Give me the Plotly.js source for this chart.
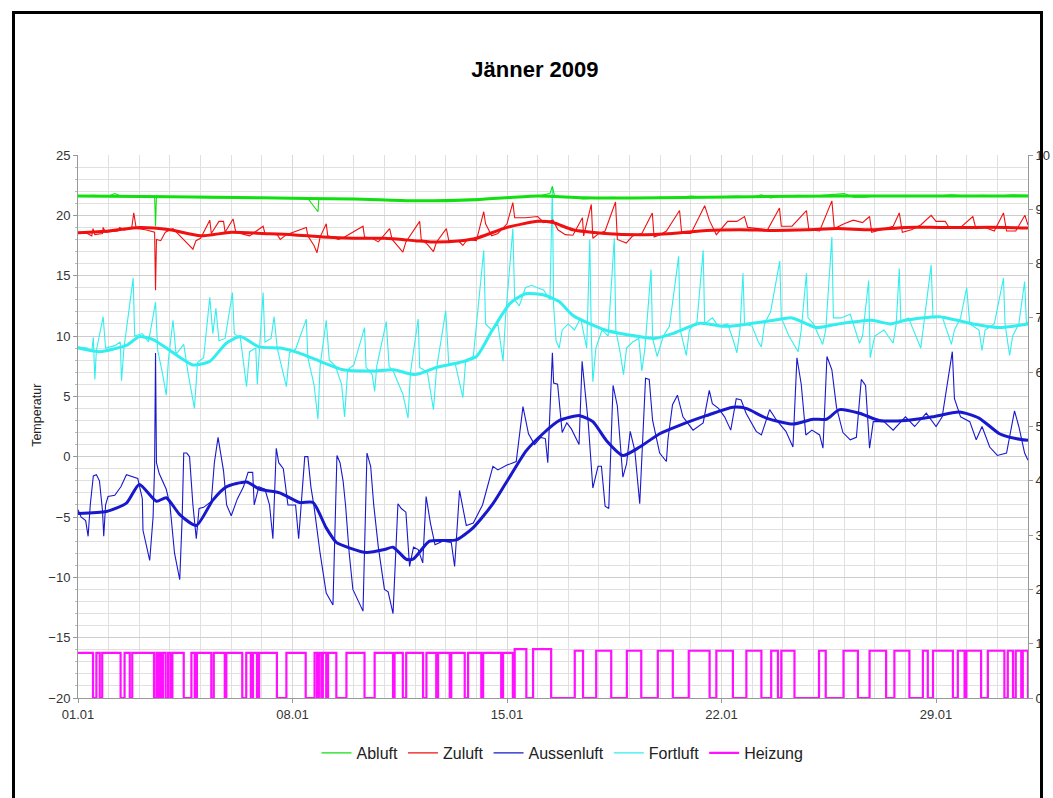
<!DOCTYPE html>
<html>
<head>
<meta charset="utf-8">
<script src="https://cdn.plot.ly/plotly-3.0.1.min.js"></script>
<style>
html,body{margin:0;padding:0;background:#fff;}
#chart{width:1053px;height:798px;}
#frame{position:absolute;left:12px;top:11px;width:1025px;height:820px;border:3px solid #000;pointer-events:none;}
</style>
</head>
<body>
<div id="chart"></div>
<div id="frame"></div>
<script>
// ---- tick labels ----
const tickDays = [0, 7, 14, 21, 28];
const tickLabels = ['01.01', '08.01', '15.01', '22.01', '29.01'];

// ---- Abluft (green) ----
const abluftDays = [0,0.5,1.0,1.2,1.4,2.0,2.5,2.53,2.56,3.5,4.5,5.5,6.5,7.5,7.83,7.86,8.5,9.5,10.0,10.5,11.0,11.5,12.0,12.5,13.0,13.5,14.0,14.5,15.0,15.4,15.48,15.55,16.0,16.5,17.0,17.5,18.0,18.5,19.0,19.5,20.0,20.5,21.0,21.5,22.0,22.3,22.6,23.0,23.5,24.0,24.5,25.0,25.3,25.7,26.0,26.5,27.0,27.5,28.0,28.5,29.0,29.5,30.0,30.5,31.0];
const abluftVals = [21.6,21.65,21.6,21.8,21.6,21.6,21.6,19.1,21.6,21.5,21.45,21.5,21.4,21.4,20.3,21.4,21.4,21.35,21.3,21.2,21.2,21.2,21.3,21.3,21.35,21.4,21.5,21.55,21.6,21.8,22.4,21.6,21.5,21.35,21.45,21.5,21.4,21.45,21.5,21.45,21.6,21.5,21.55,21.6,21.5,21.7,21.45,21.6,21.65,21.6,21.7,21.8,21.5,21.5,21.6,21.6,21.6,21.65,21.6,21.7,21.6,21.65,21.6,21.7,21.65];
const abluftAvgDays = [0,3,6,9,11,13,15,16.5,19,22,25,28,31];
const abluftAvgVals = [21.6,21.55,21.45,21.35,21.2,21.3,21.6,21.45,21.45,21.55,21.6,21.6,21.6];

// ---- Zuluft (red) ----
const zuluftDays = [0,0.3,0.45,0.49,0.55,0.8,0.82,0.9,1.3,1.36,1.5,1.75,1.82,1.9,2.2,2.5,2.53,2.56,2.7,2.85,3.1,3.3,3.6,3.75,3.85,4.0,4.3,4.35,4.6,4.75,4.8,5.06,5.15,5.3,5.6,6.04,6.1,6.5,6.6,6.8,7.02,7.45,7.5,7.7,7.8,7.9,8.1,8.15,8.5,8.7,9.3,9.35,9.6,9.8,10.17,10.25,10.45,10.6,10.7,11.15,11.2,11.4,11.6,11.7,12.02,12.1,12.4,12.56,12.7,13.0,13.24,13.3,13.5,13.7,14.0,14.19,14.25,14.6,15.0,15.2,15.5,15.66,15.9,16.15,16.46,16.5,16.75,16.8,17.0,17.2,17.54,17.6,17.89,18.1,18.4,18.74,18.8,19.0,19.2,19.63,19.7,20.0,20.45,20.6,20.83,21.2,21.5,21.75,21.85,22.3,22.5,22.89,22.95,23.3,23.77,23.85,24.2,24.6,24.68,25.0,25.3,25.6,25.83,25.9,26.3,26.6,26.8,26.9,27.2,27.5,27.84,28.0,28.3,28.4,28.8,29.2,29.3,29.6,29.9,30.2,30.3,30.6,30.9,31.0];
const zuluftVals = [18.55,18.5,18.3,18.9,18.4,18.5,19.0,18.6,18.7,19.0,18.8,18.9,20.2,18.9,18.8,18.6,13.8,18.0,17.9,18.6,18.9,18.4,17.6,17.2,17.9,18.1,19.6,18.5,19.5,19.5,18.6,19.7,18.6,18.5,18.3,19.1,18.5,18.4,18.0,18.4,18.6,19.0,18.3,17.5,16.9,18.2,19.3,18.3,18.0,18.2,19.1,18.2,18.1,17.8,18.9,18.0,17.4,16.95,17.8,19.5,18.0,17.6,17.0,17.8,18.9,17.9,17.9,17.5,18.0,17.9,20.3,19.3,18.3,18.5,19.3,21.05,19.8,19.8,19.9,19.4,19.6,18.8,18.4,18.35,19.8,18.3,20.9,18.1,18.5,18.7,21.1,18.0,17.7,18.3,18.5,20.2,18.2,18.4,18.7,20.4,18.5,18.5,20.8,19.6,18.4,19.5,19.5,19.9,19.0,18.9,18.8,20.6,19.1,19.1,20.4,18.8,18.7,21.2,18.9,19.3,19.6,19.4,19.9,18.6,18.9,19.1,20.2,18.6,18.8,19.2,20.0,19.5,19.5,19.1,19.0,19.9,18.9,19.0,18.7,20.2,18.7,18.7,20.0,19.2];
const zuluftAvgDays = [0,1,2,3,4,5,6,7,8,9,10,11,11.5,12.5,13,14,15,15.5,16.15,17.2,18.3,19.4,20.5,21.6,22.7,23.8,24.8,25.9,27,28.1,29.2,30.3,31];
const zuluftAvgVals = [18.55,18.7,19.0,18.8,18.3,18.6,18.5,18.4,18.2,18.1,18.1,17.9,17.8,17.9,18.1,19.0,19.5,19.4,18.8,18.5,18.4,18.5,18.75,18.8,18.75,18.8,18.9,18.8,19.0,19.0,19.0,19.0,18.95];

// ---- Aussenluft (blue) ----
const aussenDays = [0,0.1,0.25,0.33,0.4,0.5,0.6,0.7,0.8,0.84,0.9,0.98,1.2,1.4,1.58,1.8,1.95,2.1,2.12,2.34,2.45,2.5,2.53,2.56,2.65,2.88,3.0,3.15,3.32,3.4,3.45,3.55,3.64,3.75,3.86,3.95,4.1,4.35,4.45,4.57,4.65,4.75,4.85,5.0,5.2,5.4,5.55,5.7,5.75,5.9,6.1,6.25,6.36,6.47,6.55,6.7,6.85,7.1,7.2,7.4,7.5,7.6,7.7,7.9,8.1,8.32,8.45,8.55,8.65,8.73,8.85,8.97,9.3,9.43,9.55,9.65,9.8,10.0,10.12,10.28,10.44,10.55,10.7,10.82,10.95,11.1,11.25,11.36,11.5,11.65,11.9,12.18,12.29,12.45,12.67,12.9,13.2,13.54,13.7,14.0,14.3,14.52,14.7,14.9,15.1,15.25,15.33,15.44,15.48,15.52,15.65,15.8,15.95,16.1,16.35,16.45,16.55,16.65,16.8,16.97,17.08,17.2,17.32,17.46,17.6,17.78,17.9,18.02,18.17,18.33,18.52,18.64,18.75,18.98,19.2,19.25,19.4,19.56,19.74,20.07,20.4,20.6,20.7,20.9,21.1,21.3,21.48,21.64,21.8,22.13,22.3,22.57,22.8,23.1,23.33,23.46,23.6,23.75,23.95,24.2,24.31,24.44,24.6,24.75,24.96,25.2,25.4,25.56,25.7,25.83,25.95,26.3,26.6,27.0,27.3,27.68,28.0,28.2,28.53,28.6,28.8,29.1,29.31,29.5,29.75,30.0,30.3,30.56,30.7,30.89,31.0];
const aussenVals = [-4.4,-5.0,-5.3,-6.6,-4.0,-1.6,-1.5,-2.0,-4.5,-6.6,-4.0,-3.3,-3.2,-2.5,-1.5,-1.7,-1.8,-3.5,-6.1,-8.6,-5.0,-0.8,8.6,-0.5,-1.4,-2.7,-4.0,-8.0,-10.2,-5.0,0.3,0.3,0.0,-4.0,-6.8,-4.3,-4.2,-3.7,-0.5,1.6,0.5,-1.2,-4.0,-4.9,-3.5,-2.5,-1.3,-1.3,-4.0,-2.5,-2.7,-4.0,-6.8,0.7,-0.5,-1.0,-4.0,-4.0,-6.8,0.0,0.0,-2.5,-4.1,-8.0,-11.3,-12.3,0.1,-0.5,-2.0,-4.0,-8.0,-11.0,-12.8,0.3,-0.8,-4.0,-7.5,-11.0,-11.2,-13.0,-3.9,-4.3,-4.6,-9.1,-7.5,-7.7,-8.8,-3.3,-5.5,-7.3,-7.0,-7.1,-9.1,-2.8,-5.7,-5.5,-4.0,-0.8,-1.1,-0.7,-0.4,4.15,1.9,1.0,1.6,1.5,-0.5,6.6,8.6,6.1,6.0,2.0,2.8,2.3,1.0,7.9,5.4,2.8,-2.6,-0.8,-0.8,-4.1,-4.3,5.9,4.2,-1.7,-0.6,2.1,0.5,-3.9,6.5,6.4,3.0,0.3,-0.4,1.4,4.3,5.1,3.3,2.2,2.8,5.5,4.4,4.0,3.3,2.2,4.8,4.7,3.6,2.1,1.8,3.9,3.0,2.1,0.8,8.2,6.0,1.8,2.2,1.8,0.7,8.3,7.2,4.1,2.0,1.4,1.6,6.4,5.9,0.7,2.9,2.9,2.2,3.3,2.5,3.6,2.5,3.3,8.7,4.8,3.3,2.9,1.4,2.5,0.8,0.1,0.3,3.8,2.5,0.3,-0.3];
const aussenAvgDays = [0,0.93,1.58,2.0,2.56,2.88,3.32,3.86,4.4,4.84,5.5,5.93,6.58,7.23,7.67,8.1,8.43,8.9,9.41,10.0,10.28,10.71,10.93,11.15,11.47,12.34,12.89,13.54,14.08,14.63,15.17,15.71,16.37,16.8,17.24,17.78,18.33,18.98,19.63,20.5,21.37,21.8,22.46,23.33,23.98,24.42,24.85,25.5,26.15,27.02,27.89,28.76,29.4,30.07,30.6,31.0];
const aussenAvgVals = [-4.7,-4.55,-3.85,-2.3,-3.7,-3.4,-4.8,-5.7,-3.6,-2.5,-2.1,-2.7,-3.0,-3.8,-3.8,-5.9,-7.1,-7.6,-7.95,-7.7,-7.5,-8.5,-8.5,-7.9,-7.0,-6.9,-5.9,-3.9,-1.7,0.5,1.9,3.0,3.4,2.9,1.35,0.1,0.8,1.9,2.6,3.4,4.1,4.0,3.2,2.7,3.1,3.1,3.9,3.6,3.0,3.0,3.3,3.7,3.2,1.9,1.5,1.35];

// ---- Fortluft (cyan) ----
const fortDays = [0,0.3,0.45,0.5,0.55,0.6,0.82,0.9,1.2,1.38,1.42,1.5,1.8,1.85,2.1,2.3,2.53,2.6,2.75,2.88,2.95,3.1,3.2,3.45,3.6,3.8,3.9,4.1,4.3,4.4,4.5,4.6,4.8,5.04,5.1,5.3,5.5,5.6,5.8,5.85,6.04,6.1,6.3,6.4,6.5,6.8,6.9,7.1,7.45,7.5,7.7,7.83,7.9,8.1,8.2,8.4,8.6,8.7,8.8,9.0,9.35,9.4,9.6,9.68,9.75,10.06,10.15,10.3,10.6,10.77,10.85,11.1,11.15,11.4,11.6,11.7,12.0,12.1,12.3,12.56,12.65,12.9,13.24,13.3,13.5,13.7,13.87,13.95,14.19,14.25,14.4,14.6,14.8,15.0,15.2,15.4,15.48,15.52,15.6,15.7,15.8,16.0,16.2,16.4,16.6,16.7,16.75,16.8,16.9,17.1,17.3,17.5,17.55,17.7,17.8,17.9,18.1,18.3,18.4,18.5,18.7,18.75,18.9,19.1,19.3,19.6,19.65,19.85,19.95,20.2,20.4,20.45,20.7,20.9,21.2,21.4,21.5,21.6,21.7,21.75,22.0,22.2,22.3,22.4,22.6,22.9,22.95,23.2,23.5,23.6,23.77,23.82,24.0,24.3,24.4,24.6,24.65,24.9,25.2,25.5,25.6,25.8,25.85,26.0,26.3,26.6,26.7,26.8,26.85,27.1,27.4,27.5,27.6,27.84,27.9,28.2,28.5,28.6,28.8,29.0,29.1,29.4,29.5,29.6,29.9,30.2,30.25,30.4,30.5,30.7,30.89,30.95,31.0];
const fortVals = [9.1,9.0,8.7,9.9,6.4,8.8,11.6,9.0,9.2,9.5,6.3,9.0,14.8,10.0,10.2,9.5,12.8,8.8,7.0,5.1,8.0,11.3,8.5,9.3,6.8,4.0,7.8,8.2,13.2,10.2,12.3,9.6,9.8,13.6,10.2,9.8,5.8,8.7,9.0,6.0,13.6,9.5,9.8,11.6,9.0,5.8,8.6,8.9,11.4,8.2,6.0,3.1,7.5,11.3,8.0,7.5,6.0,3.3,7.2,7.6,10.7,7.4,6.8,5.4,7.5,11.2,7.5,7.0,5.2,3.2,7.0,11.4,7.4,7.0,3.9,7.3,12.1,7.6,7.8,4.9,8.0,8.3,17.1,11.0,10.5,11.0,7.9,11.5,18.9,13.0,12.5,14.0,14.2,14.0,13.8,13.0,22.4,12.5,9.6,9.0,10.5,11.0,10.5,11.5,9.0,18.0,10.0,6.2,9.0,10.5,10.0,18.1,10.5,8.5,6.8,9.0,9.5,9.8,7.1,9.0,15.5,9.8,8.3,10.0,10.8,16.6,10.5,8.4,10.5,11.2,17.1,11.0,11.5,10.8,11.0,9.5,8.6,10.5,15.2,11.0,10.8,9.5,9.1,11.0,12.0,16.2,11.5,10.0,8.7,10.5,15.2,11.5,11.0,9.3,10.5,18.2,11.5,11.5,11.8,9.4,10.0,14.6,8.2,10.0,10.5,9.4,11.0,15.6,11.2,11.5,9.5,9.0,11.0,15.9,11.5,11.6,9.3,10.5,11.5,14.0,11.0,10.5,8.8,10.5,11.0,14.8,11.0,8.4,10.0,11.0,14.5,11.0,11.2];
const fortAvgDays = [0,0.7,1.6,2.0,2.45,3.0,3.75,4.3,4.84,5.3,5.9,6.6,7.2,7.9,8.65,9.6,10.3,11.0,11.7,12.45,13.0,13.5,14.1,14.6,15.2,15.7,16.15,17.2,18.3,18.8,19.4,20.3,21.05,21.6,22.7,23.3,24.1,24.8,25.9,26.5,27.0,28.1,29.2,30.07,31.0];
const fortAvgVals = [9.0,8.7,9.25,9.95,9.7,8.8,7.6,7.9,9.4,9.95,9.1,9.0,8.6,7.9,7.2,7.1,7.2,6.8,7.4,7.8,8.3,10.4,12.7,13.5,13.4,12.85,11.7,10.5,9.95,9.8,10.2,11.05,10.8,10.9,11.3,11.5,10.7,11.0,11.3,11.0,11.3,11.6,11.0,10.7,11.0];

// ---- Heizung (magenta, right axis): on-periods [start, end] in days and level ----
const heizOnStart = [0,0.60,0.79,1.52,1.77,2.56,2.66,2.77,2.94,3.08,3.70,3.88,4.43,4.84,5.49,5.71,5.91,6.80,7.72,7.86,7.99,8.16,8.76,9.68,10.33,10.71,11.37,11.75,12.18,12.73,13.22,13.87,14.25,14.85,16.21,16.91,17.91,18.92,19.93,20.83,21.81,22.62,22.95,24.18,24.98,25.83,26.64,27.57,27.90,28.71,28.99,29.69,30.34,30.60,30.83];
const heizOnEnd   = [0.49,0.71,1.39,1.69,2.48,2.61,2.72,2.86,3.02,3.45,3.81,4.35,4.79,5.36,5.64,5.84,6.49,7.43,7.80,7.94,8.10,8.43,9.35,10.28,10.60,11.26,11.69,12.13,12.62,13.16,13.81,14.19,14.63,15.44,16.48,17.40,18.38,19.41,20.61,21.37,22.30,22.84,23.38,24.40,25.45,26.37,27.13,27.73,28.55,28.93,29.47,30.23,30.51,30.78,31.0];
const heizLevel   = [0.83,0.83,0.83,0.83,0.83,0.83,0.83,0.83,0.83,0.83,0.83,0.83,0.83,0.83,0.83,0.83,0.83,0.83,0.83,0.83,0.83,0.83,0.83,0.83,0.83,0.83,0.83,0.83,0.83,0.83,0.83,0.83,0.9,0.9,0.87,0.87,0.87,0.87,0.87,0.87,0.87,0.87,0.87,0.87,0.87,0.87,0.87,0.87,0.87,0.87,0.87,0.87,0.87,0.87,0.87];

// build step path for Heizung from the on-periods
const heizX = [], heizY = [];
for (let i = 0; i < heizOnStart.length; i++) {
  if (heizOnStart[i] > 0) { heizX.push(heizOnStart[i]); heizY.push(0); }
  heizX.push(heizOnStart[i]); heizY.push(heizLevel[i]);
  heizX.push(heizOnEnd[i]); heizY.push(heizLevel[i]);
  heizX.push(heizOnEnd[i]); heizY.push(0);
}

const GREEN = '#10e010', RED = '#f01010', BLUE = '#1818cc', CYAN = '#33eeee', MAG = '#ff10ff';
function thin(x, y, name, color, w) {
  return {x: x, y: y, name: name, type: 'scatter', mode: 'lines', line: {color: color, width: w || 1.1}};
}
function thick(x, y, color) {
  return {x: x, y: y, type: 'scatter', mode: 'lines', showlegend: false, hoverinfo: 'skip',
          line: {color: color, width: 3, shape: 'spline', smoothing: 0.6}};
}

const data = [
  thin(heizX, heizY, 'Heizung', MAG, 2.2),
  thin(aussenDays, aussenVals, 'Aussenluft', BLUE),
  thick(aussenAvgDays, aussenAvgVals, BLUE),
  thin(fortDays, fortVals, 'Fortluft', CYAN),
  thick(fortAvgDays, fortAvgVals, CYAN),
  thin(zuluftDays, zuluftVals, 'Zuluft', RED),
  thick(zuluftAvgDays, zuluftAvgVals, RED),
  thin(abluftDays, abluftVals, 'Abluft', GREEN),
  thick(abluftAvgDays, abluftAvgVals, GREEN)
];
data[0].yaxis = 'y2';
data[0].legendrank = 5;
data[1].legendrank = 3;
data[3].legendrank = 4;
data[5].legendrank = 2;
data[7].legendrank = 1;

const font = {family: 'Liberation Sans, Arial, sans-serif', color: '#222', size: 13};
const layout = {
  width: 1053, height: 798,
  paper_bgcolor: '#fff', plot_bgcolor: '#fff',
  margin: {l: 78, r: 25, t: 155, b: 100},
  font: font,
  showlegend: true,
  title: {text: '<b>Jänner 2009</b>', font: {family: 'Liberation Sans, Arial, sans-serif', size: 22, color: '#000'},
          x: 0.508, xref: 'container', xanchor: 'center', y: 0.913, yref: 'container', yanchor: 'middle'},
  xaxis: {
    range: [0, 31], tickmode: 'array', tickvals: tickDays, ticktext: tickLabels,
    showgrid: true, gridcolor: '#d8d8d8', gridwidth: 1,
    minor: {tickmode: 'linear', tick0: 0, dtick: 1, showgrid: true, gridcolor: '#e0e0e0', gridwidth: 1},
    showline: true, linecolor: '#999', linewidth: 1, ticks: 'outside', ticklen: 4, tickcolor: '#999',
    zeroline: false, tickfont: {size: 13, color: '#333'}
  },
  yaxis: {
    range: [-20, 25], dtick: 5, tick0: 0,
    showgrid: true, gridcolor: '#cdcdcd', gridwidth: 1,
    minor: {dtick: 1, showgrid: true, gridcolor: '#e0e0e0', gridwidth: 1, ticks: 'outside', ticklen: 2, tickcolor: '#bbb'},
    showline: true, linecolor: '#999', linewidth: 1, ticks: 'outside', ticklen: 4, tickcolor: '#999',
    zeroline: false, tickfont: {size: 13, color: '#333'}
  },
  yaxis2: {
    overlaying: 'y', side: 'right', range: [0, 10], dtick: 1,
    showgrid: false, showline: true, linecolor: '#999', linewidth: 1,
    ticks: 'outside', ticklen: 4, tickcolor: '#999', zeroline: false,
    tickfont: {size: 13, color: '#333'}
  },
  annotations: [{
    text: 'Temperatur', textangle: -90, xref: 'paper', yref: 'paper',
    x: -0.044, y: 0.52, xanchor: 'center', yanchor: 'middle', showarrow: false,
    font: {size: 12.5, color: '#222'}
  }],
  legend: {orientation: 'h', x: 0.51, xanchor: 'center', y: -0.07, yanchor: 'top',
           font: {size: 16, color: '#222'}, traceorder: 'normal', itemwidth: 30, bgcolor: 'rgba(0,0,0,0)'}
};

Plotly.newPlot('chart', data, layout, {staticPlot: true});
</script>
</body>
</html>
